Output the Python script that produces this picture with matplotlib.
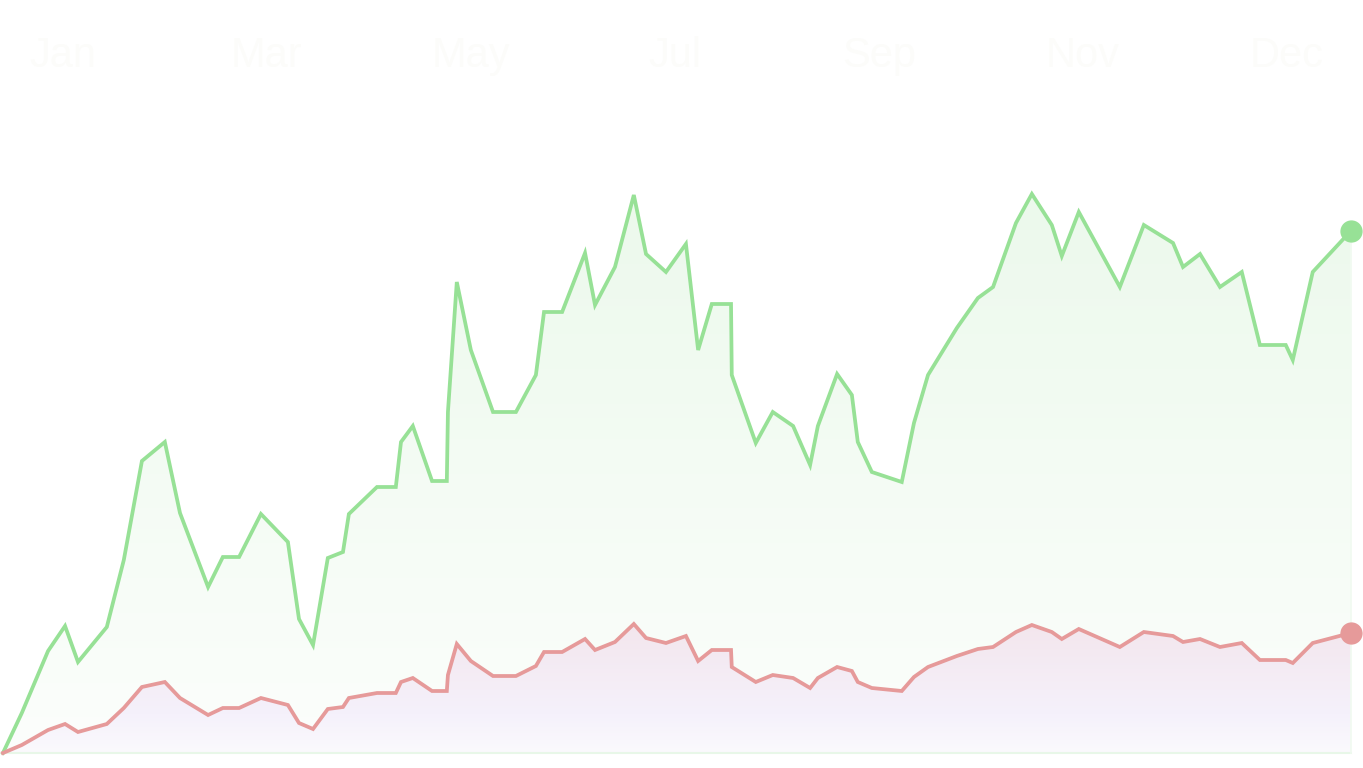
import numpy as np
import matplotlib.pyplot as plt
from matplotlib.colors import LinearSegmentedColormap

# day of year for each sample
days = [0.0, 5.1, 12.2, 16.8, 20.3, 28.1, 32.7, 37.6, 43.8, 47.9,
        55.5, 59.5, 63.9, 69.8, 77.1, 80.1, 83.9, 87.9, 92.0, 93.6,
        101.2, 106.3, 107.7, 110.9, 116.1, 120.1, 120.4, 122.8, 126.6, 132.6,
        138.8, 144.2, 146.4, 151.3, 157.5, 160.2, 165.6, 170.7, 174.0, 179.4,
        184.8, 188.1, 191.8, 197.0, 197.2, 203.7, 208.3, 213.8, 218.4, 220.5,
        225.7, 229.7, 231.3, 235.1, 243.2, 246.5, 250.3, 258.1, 263.8, 267.9,
        274.1, 278.4, 283.8, 286.5, 291.1, 302.2, 308.7, 316.6, 319.3, 323.9,
        329.3, 335.2, 340.1, 347.1, 349.0, 354.4, 364.7]

green = [0, 40, 102, 127, 91, 126, 193, 292, 311, 240,
         166, 196, 196, 239, 211, 134, 108, 195, 201, 239,
         266, 266, 311, 327, 272, 272, 341, 471, 403, 341,
         341, 378, 441, 441, 500, 448, 486, 558, 499, 481,
         509, 403, 449, 449, 378, 310, 341, 327, 288, 327,
         379, 358, 311, 281, 271, 330, 378, 425, 455, 466,
         530, 559, 528, 497, 541, 466, 528, 510, 486, 499,
         466, 481, 408, 408, 393, 481, 522]

red = [0, 8, 23, 29, 21, 29, 45, 66, 71, 55,
       38, 45, 45, 55, 48, 30, 24, 44, 46, 55,
       60, 60, 71, 75, 62, 62, 78, 109, 92, 77,
       77, 87, 101, 101, 114, 103, 111, 129, 115, 110,
       117, 92, 103, 103, 86, 71, 78, 75, 65, 75,
       86, 82, 71, 65, 62, 76, 86, 97, 104, 106,
       121, 128, 121, 114, 124, 106, 121, 117, 111, 114,
       106, 110, 93, 93, 90, 110, 120]

months = ['Jan', 'Mar', 'May', 'Jul', 'Sep', 'Nov', 'Dec']

GREEN = '#97e196'
RED = '#e69a9a'


def gradient_fill(ax, x, y, stops, colors):
    poly = ax.fill_between(x, y, 0, facecolor='none', edgecolor='none')
    cmap = LinearSegmentedColormap.from_list('grad', list(zip(stops, colors)))
    grad = np.linspace(0, 1, 256).reshape(-1, 1)
    im = ax.imshow(grad, cmap=cmap, aspect='auto', origin='lower',
                   extent=[x[0], x[-1], 0, max(y)], zorder=1)
    im.set_clip_path(poly.get_paths()[0], transform=ax.transData)


fig = plt.figure(figsize=(13.63, 7.68), dpi=100)
ax = fig.add_axes([0, 0, 1, 1])

gradient_fill(ax, days, green, [0, 1], ['#fcfefc', '#ecf9ec'])
gradient_fill(ax, days, red, [0, 0.3, 1], ['#fbfafd', '#f5f1fb', '#f3e6ed'])

# faint baseline and right edge of the area
ax.plot([days[0], days[-1]], [0, 0], color='#e8f7e8', lw=1.5, zorder=2)
ax.plot([days[-1], days[-1]], [0, green[-1]], color='#f0faf0', lw=1.2, zorder=2)

ax.plot(days, green, color=GREEN, lw=2.7, solid_joinstyle='miter', zorder=3)
ax.plot(days, red, color=RED, lw=2.7, solid_joinstyle='miter', zorder=3)
ax.plot(days[-1], green[-1], 'o', ms=15, color=GREEN, zorder=4)
ax.plot(days[-1], red[-1], 'o', ms=15, color=RED, zorder=4)

label_pos = np.linspace(16.2, 347.4, len(months))
for pos, m in zip(label_pos, months):
    ax.text(pos, 0.927, m, transform=ax.get_xaxis_transform(),
            ha='center', va='center', fontsize=30, color='#fcfcfa',
            family='Liberation Sans')

ax.set_xlim(-0.8, 368)
ax.set_ylim(-15, 753)
ax.axis('off')

fig.savefig('out.png', dpi=100, facecolor='white')
